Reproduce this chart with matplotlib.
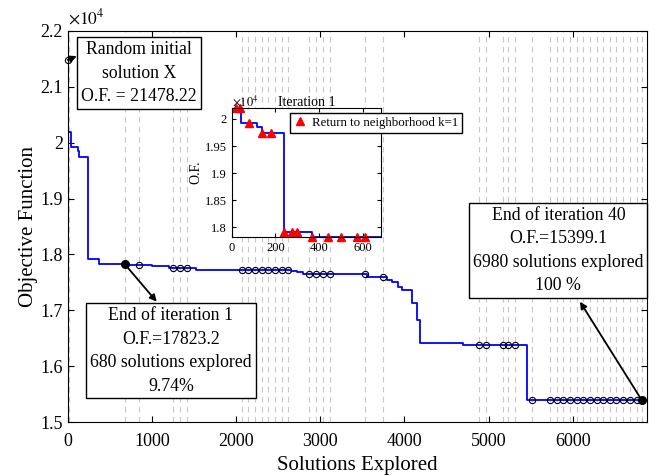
import numpy as np
import matplotlib
matplotlib.use("Agg")
import matplotlib.pyplot as plt
from matplotlib.ticker import FuncFormatter

plt.rcParams['font.family'] = ['Liberation Serif', 'DejaVu Serif']
plt.rcParams['mathtext.fontset'] = 'stix'

# objective function over all explored solutions (level starts at x)
of_x = [0, 8, 41, 117, 140, 240, 366, 680, 700, 1000, 1200, 1520, 2650, 2720,
        2800, 3550, 3789, 3848, 3926, 3967, 4086, 4145, 4184, 4700, 5458]
of_y = [21478.22, 20197, 19920, 19850, 19737, 17915, 17834, 17823, 17812, 17800,
        17763, 17722, 17710, 17680, 17650, 17590, 17543, 17502, 17424, 17365,
        17127, 16828, 16412, 16390, 15399.1]
x_last = 6817

# end of each iteration (40 iterations)
iter_end = [680, 843, 1254, 1334, 1413,
            2067, 2146, 2225, 2304, 2383, 2462, 2541, 2620,
            2869, 2949, 3029, 3115, 3531, 3748,
            4885, 4964, 5166, 5233, 5313, 5518,
            5728, 5807, 5886, 5965, 6044, 6123, 6202, 6281, 6360, 6439,
            6518, 6597, 6676, 6758, 6817]

# iteration 1 detail
it1_x = [0, 41, 117, 140, 240, 366]
it1_y = [20197, 19920, 19850, 19737, 17915, 17823]
it1_last = 684
ret_x = [18, 40, 79, 140, 179, 240, 278, 300, 370, 439, 500, 572, 610]


def level_at(xs, ys, q):
    idx = np.searchsorted(xs, q, side='right') - 1
    return np.array(ys)[idx]


fmt = FuncFormatter(lambda v, p: "%g" % (v / 1e4))

fig = plt.figure(figsize=(6.56, 4.76), dpi=100)
ax = fig.add_axes([0.1032, 0.1128, 0.8826, 0.8227])

for gx in [15] + iter_end:
    ax.axvline(gx, color='#c8c8c8', lw=0.8, ls=(0, (5, 4)), zorder=0)

ax.step(of_x + [x_last], of_y + [of_y[-1]], where='post', color='blue', lw=1.3, zorder=2)

open_x = iter_end[1:-1]
ax.plot(open_x, level_at(of_x, of_y, open_x), 'o', mfc='none', mec='k',
        ms=4.5, mew=0.8, zorder=3)
ax.plot([of_x[0]], [of_y[0]], 'o', mfc='none', mec='k', ms=4.5, mew=0.8,
        zorder=3, clip_on=False)
ends = [iter_end[0], iter_end[-1]]
ax.plot(ends, level_at(of_x, of_y, ends), 'o', color='k', ms=5.5, zorder=4)

ax.set_xlim(0, 6877)
ax.set_ylim(15000, 22000)
ax.set_xticks(np.arange(0, 7000, 1000))
ax.set_yticks(np.arange(15000, 22001, 1000))
ax.yaxis.set_major_formatter(fmt)
ax.tick_params(direction='in', top=True, right=True, labelsize=13, length=4, width=0.8)
ax.tick_params(axis='x', pad=8)
for s in ax.spines.values():
    s.set_linewidth(0.8)
ax.set_xlabel('Solutions Explored', fontsize=15, labelpad=4)
ax.set_ylabel('Objective Function', fontsize=15, labelpad=2)
ax.text(0, 1.008, r'$\times10^4$', transform=ax.transAxes, fontsize=12.5, va='bottom')

# text boxes (figure coords, drawn inside the main axes so arrows sit on top)
box = dict(boxstyle='square,pad=0.22', fc='white', ec='k', lw=1)
tkw = dict(fontsize=12.8, ha='center', va='center', multialignment='center',
           linespacing=1.5, bbox=box, zorder=5, transform=fig.transFigure, clip_on=False)
ax.text(0.212, 0.846, 'Random initial\nsolution X\nO.F. = 21478.22', **tkw)
ax.text(0.2604, 0.263, 'End of iteration 1\nO.F.=17823.2\n680 solutions explored\n9.74%', **tkw)
ax.text(0.8511, 0.4737, 'End of iteration 40\nO.F.=15399.1\n6980 solutions explored\n100 %', **tkw)

arrow = dict(arrowstyle='-|>', color='k', lw=1.3, mutation_scale=10, shrinkA=0, shrinkB=0)
for head, src in [((0.117, 0.882), of_x[0]), ((0.2389, 0.3662), ends[0]), ((0.8841, 0.3662), ends[1])]:
    ax.annotate('', xy=head, xycoords='figure fraction',
                xytext=(src, level_at(of_x, of_y, src)), textcoords='data',
                arrowprops=arrow, zorder=6)

# inset: iteration 1
axin = fig.add_axes([0.3532, 0.5027, 0.2276, 0.2697])
axin.step(it1_x + [it1_last], it1_y + [it1_y[-1]], where='post', color='blue', lw=1.3)
axin.plot(ret_x, level_at(it1_x, it1_y, ret_x), '^', color='red', mec='red', ms=6,
          ls='none', clip_on=False, label='Return to neighborhood k=1')
axin.set_xlim(0, it1_last)
axin.set_ylim(min(it1_y), max(it1_y))
axin.set_xticks([0, 200, 400, 600])
axin.set_yticks([18000, 18500, 19000, 19500, 20000])
axin.yaxis.set_major_formatter(fmt)
axin.tick_params(direction='in', top=True, right=True, labelsize=9, length=3, width=0.8)
for s in axin.spines.values():
    s.set_linewidth(0.8)
axin.set_title('Iteration 1', fontsize=10, pad=2)
axin.set_ylabel('O.F.', fontsize=10, labelpad=2)
axin.text(0, 1.0, r'$\times10^4$', transform=axin.transAxes, fontsize=9, va='bottom')
axin.legend(loc='upper left', bbox_to_anchor=(0.442, 0.7626), bbox_transform=fig.transFigure,
            fontsize=9.3, fancybox=False, edgecolor='k', framealpha=1, borderaxespad=0,
            handlelength=1, handletextpad=0.4, borderpad=0.3)

fig.savefig('out.png', dpi=100)
